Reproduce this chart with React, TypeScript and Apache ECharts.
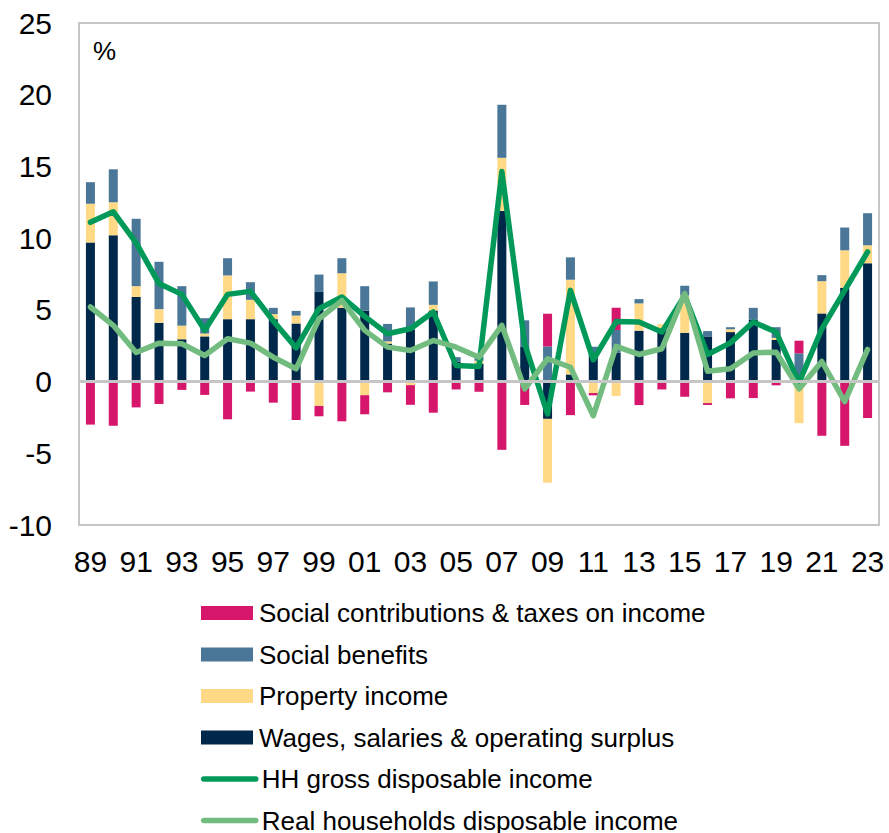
import React, { useEffect, useRef } from "react";
import * as echarts from "echarts";

const years = [
  "89","90","91","92","93","94","95","96","97","98","99","00","01","02","03","04","05","06",
  "07","08","09","10","11","12","13","14","15","16","17","18","19","20","21","22","23",
];

const wages = [
  9.7, 10.2, 5.9, 4.1, 2.95, 3.15, 4.35, 4.35, 4.35, 4.05, 6.25,
  5.15, 4.95, 2.65, 3.6, 4.95, 1.4, 1.25, 11.9, 2.45, -2.6,
  0.5, 1.95, 2.0, 3.55, 3.7, 3.4, 3.15, 3.45, 4.3, 2.9,
  -0.1, 4.75, 6.55, 8.25,
];
const property = [
  2.7, 2.3, 0.75, 0.95, 0.95, 0.2, 3.05, 1.35, 0.35, 0.55, -1.7,
  2.4, -0.95, 0.15, -0.25, 0.4, 0, 0.2, 3.7, 0, -4.45,
  6.6, -0.8, -1.0, 1.9, 0.3, 2.6, -1.5, 0.2, 0, 0.15,
  -2.8, 2.25, 2.6, 1.25,
];
const benefits = [
  1.5, 2.3, 4.7, 3.3, 2.75, 1.07, 1.2, 1.23, 0.44, 0.33, 1.21,
  1.05, 1.7, 1.22, 1.57, 1.63, 0.3, 0.3, 3.7, 1.82, 2.45,
  1.56, 0.48, 1.6, 0.3, 0, 0.68, 0.37, 0.14, 0.84, 0.74,
  1.97, 0.42, 1.59, 2.24,
];
const contributions = [
  -3.0, -3.08, -1.8, -1.56, -0.58, -0.93, -2.63, -0.7, -1.47, -2.68, -0.72,
  -2.77, -1.33, -0.75, -1.37, -2.17, -0.55, -0.71, -4.76, -1.63, 2.28,
  -2.34, -0.16, 1.55, -1.64, -0.55, -1.06, -0.13, -1.17, -1.15, -0.26,
  0.88, -3.78, -4.48, -2.54,
];
const hhGross = [
  11.1, 11.84, 9.67, 6.83, 6.08, 3.57, 6.08, 6.29, 4.22, 2.35, 5.08,
  5.9, 4.55, 3.33, 3.68, 4.85, 1.12, 1.05, 14.64, 2.63, -2.26,
  6.36, 1.52, 4.18, 4.15, 3.45, 6.01, 1.89, 2.7, 4.15, 3.45,
  -0.08, 3.68, 6.36, 9.04,
];
const realHH = [
  5.2, 3.92, 2.03, 2.68, 2.64, 1.82, 2.99, 2.68, 1.7, 0.89, 4.38,
  5.65, 3.57, 2.4, 2.17, 2.87, 2.4, 1.7, 3.92, -0.51, 1.59,
  1.0, -2.38, 2.46, 1.89, 2.29, 6.13, 0.72, 0.89, 2.0, 2.05,
  -0.51, 1.4, -1.4, 2.24,
];

const NAMES = {
  contrib: "Social contributions & taxes on income",
  benefits: "Social benefits",
  property: "Property income",
  wages: "Wages, salaries & operating surplus",
  gross: "HH gross disposable income",
  real: "Real households disposable income",
};

const COLORS = {
  contrib: "#D5166B",
  benefits: "#4A7698",
  property: "#FFD986",
  wages: "#00284A",
  gross: "#00995A",
  real: "#72BC7F",
};

const FONT = "Arial, 'Liberation Sans', sans-serif";

export default function App() {
  const ref = useRef<HTMLDivElement>(null);

  useEffect(() => {
    if (!ref.current) return;
    const chart = echarts.init(ref.current, undefined, { renderer: "svg" });
    const barCommon = {
      type: "bar" as const,
      stack: "total",
      barWidth: 9,
    };
    const legendCommon = {
      orient: "vertical" as const,
      left: 201,
      padding: 0,
      itemWidth: 52,
      itemGap: 13.5,
      height: 200,
      textStyle: {
        fontSize: 26,
        color: "#000",
        fontFamily: FONT,
        lineHeight: 28,
        padding: [0, 0, 0, 1],
      },
    };
    chart.setOption({
      animation: false,
      textStyle: { fontFamily: FONT },
      grid: {
        left: 79,
        top: 23,
        width: 800,
        height: 502,
        show: true,
        borderColor: "#c6c6c6",
        borderWidth: 2,
        backgroundColor: "transparent",
      },
      xAxis: {
        type: "category",
        data: years,
        axisLine: { show: false },
        axisTick: { show: false },
        splitLine: { show: false },
        axisLabel: {
          interval: 1,
          fontSize: 30,
          color: "#000",
          fontFamily: FONT,
          margin: 21,
        },
      },
      yAxis: {
        type: "value",
        min: -10,
        max: 25,
        interval: 5,
        axisLine: { show: false },
        axisTick: { show: false },
        splitLine: { show: false },
        axisLabel: {
          fontSize: 30,
          color: "#000",
          fontFamily: FONT,
          margin: 27,
        },
      },
      legend: [
        {
          ...legendCommon,
          top: 599,
          itemHeight: 14,
          data: [
            { name: NAMES.contrib, icon: "rect" },
            { name: NAMES.benefits, icon: "rect" },
            { name: NAMES.property, icon: "rect" },
            { name: NAMES.wages, icon: "rect" },
          ],
        },
        {
          ...legendCommon,
          top: 765,
          itemHeight: 4,
          lineStyle: { width: 5.5, cap: "round" },
          data: [{ name: NAMES.gross }, { name: NAMES.real }],
        },
      ],
      graphic: [
        {
          type: "text",
          left: 93,
          top: 38,
          style: { text: "%", fontSize: 26, fill: "#000", fontFamily: FONT },
        },
      ],
      series: [
        {
          ...barCommon,
          name: NAMES.wages,
          data: wages,
          itemStyle: { color: COLORS.wages },
        },
        {
          ...barCommon,
          name: NAMES.property,
          data: property,
          itemStyle: { color: COLORS.property },
        },
        {
          ...barCommon,
          name: NAMES.benefits,
          data: benefits,
          itemStyle: { color: COLORS.benefits },
        },
        {
          ...barCommon,
          name: NAMES.contrib,
          data: contributions,
          itemStyle: { color: COLORS.contrib },
          markLine: {
            silent: true,
            symbol: "none",
            label: { show: false },
            lineStyle: { color: "#c6c6c6", width: 3, type: "solid" },
            data: [{ yAxis: 0 }],
          },
        },
        {
          type: "line",
          name: NAMES.gross,
          data: hhGross,
          symbol: "none",
          lineStyle: { color: COLORS.gross, width: 5.5, cap: "round", join: "round" },
          itemStyle: { color: COLORS.gross },
        },
        {
          type: "line",
          name: NAMES.real,
          data: realHH,
          symbol: "none",
          lineStyle: { color: COLORS.real, width: 5.5, cap: "round", join: "round" },
          itemStyle: { color: COLORS.real },
        },
      ],
    });
    return () => chart.dispose();
  }, []);

  return (
    <div
      ref={ref}
      style={{ position: "absolute", left: 0, top: 0, width: 889, height: 833 }}
    />
  );
}
